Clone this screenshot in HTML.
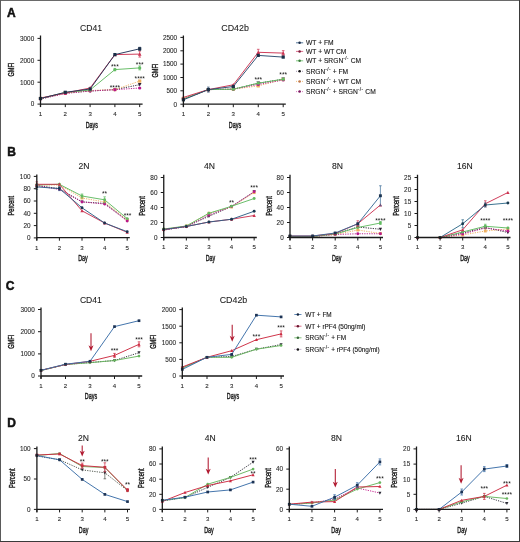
<!DOCTYPE html>
<html><head><meta charset="utf-8"><style>
html,body{margin:0;padding:0;background:#fff;}
body{width:520px;height:542px;overflow:hidden;position:relative;}
svg{position:absolute;left:0;top:0;font-family:"Liberation Sans", sans-serif;filter:blur(0.35px);}
</style></head><body>
<svg width="520" height="542" viewBox="0 0 520 542">
<rect x="0" y="0" width="520" height="542" fill="#fff"/>
<polyline points="40.50,99.00 65.30,93.00 90.10,91.00 114.90,89.60 139.70,84.70" fill="none" stroke="#2a2030" stroke-width="0.95" stroke-dasharray="1.2 1.2"/>
<polyline points="40.50,98.50 65.30,93.00 90.10,90.50 114.90,89.60 139.70,81.10" fill="none" stroke="#eeb060" stroke-width="0.95" stroke-dasharray="1.2 1.2"/>
<polyline points="40.50,99.00 65.30,93.50 90.10,91.00 114.90,89.70 139.70,88.00" fill="none" stroke="#b8188a" stroke-width="0.95" stroke-dasharray="1.2 1.2"/>
<polyline points="40.50,98.50 65.30,92.50 90.10,90.00 114.90,69.60 139.70,67.90" fill="none" stroke="#62bb62" stroke-width="0.95"/>
<polyline points="40.50,98.00 65.30,93.00 90.10,88.00 114.90,54.60 139.70,54.10" fill="none" stroke="#cc3452" stroke-width="0.95"/>
<polyline points="40.50,98.50 65.30,92.30 90.10,89.00 114.90,54.60 139.70,48.80" fill="none" stroke="#24365a" stroke-width="0.95"/>
<path d="M40.50 100.90L42.30 97.40L38.70 97.40Z" fill="#2a2030"/>
<path d="M65.30 94.90L67.10 91.40L63.50 91.40Z" fill="#2a2030"/>
<path d="M90.10 92.90L91.90 89.40L88.30 89.40Z" fill="#2a2030"/>
<path d="M114.90 91.50L116.70 88.00L113.10 88.00Z" fill="#2a2030"/>
<path d="M139.70 86.60L141.50 83.10L137.90 83.10Z" fill="#2a2030"/>
<rect x="38.90" y="96.90" width="3.2" height="3.2" fill="#eeb060"/>
<rect x="63.70" y="91.40" width="3.2" height="3.2" fill="#eeb060"/>
<rect x="88.50" y="88.90" width="3.2" height="3.2" fill="#eeb060"/>
<rect x="113.30" y="88.00" width="3.2" height="3.2" fill="#eeb060"/>
<rect x="138.10" y="79.50" width="3.2" height="3.2" fill="#eeb060"/>
<circle cx="40.50" cy="99.00" r="1.6" fill="#b8188a"/>
<circle cx="65.30" cy="93.50" r="1.6" fill="#b8188a"/>
<circle cx="90.10" cy="91.00" r="1.6" fill="#b8188a"/>
<circle cx="114.90" cy="89.70" r="1.6" fill="#b8188a"/>
<circle cx="139.70" cy="88.00" r="1.6" fill="#b8188a"/>
<circle cx="40.50" cy="98.50" r="1.6" fill="#62bb62"/>
<circle cx="65.30" cy="92.50" r="1.6" fill="#62bb62"/>
<circle cx="90.10" cy="90.00" r="1.6" fill="#62bb62"/>
<path d="M114.90 68.40V70.80M113.60 68.40H116.20M113.60 70.80H116.20" stroke="#62bb62" stroke-width="0.7" fill="none"/>
<circle cx="114.90" cy="69.60" r="1.6" fill="#62bb62"/>
<path d="M139.70 65.90V69.90M138.40 65.90H141.00M138.40 69.90H141.00" stroke="#62bb62" stroke-width="0.7" fill="none"/>
<circle cx="139.70" cy="67.90" r="1.6" fill="#62bb62"/>
<path d="M40.50 96.10L42.30 99.60L38.70 99.60Z" fill="#cc3452"/>
<path d="M65.30 91.10L67.10 94.60L63.50 94.60Z" fill="#cc3452"/>
<path d="M90.10 86.10L91.90 89.60L88.30 89.60Z" fill="#cc3452"/>
<path d="M114.90 52.70L116.70 56.20L113.10 56.20Z" fill="#cc3452"/>
<path d="M139.70 51.10V57.10M138.40 51.10H141.00M138.40 57.10H141.00" stroke="#cc3452" stroke-width="0.7" fill="none"/>
<path d="M139.70 52.20L141.50 55.70L137.90 55.70Z" fill="#cc3452"/>
<rect x="38.90" y="96.90" width="3.2" height="3.2" fill="#1a2e48"/>
<rect x="63.70" y="90.70" width="3.2" height="3.2" fill="#1a2e48"/>
<rect x="88.50" y="87.40" width="3.2" height="3.2" fill="#1a2e48"/>
<rect x="113.30" y="53.00" width="3.2" height="3.2" fill="#1a2e48"/>
<path d="M139.70 47.30V50.30M138.40 47.30H141.00M138.40 50.30H141.00" stroke="#24365a" stroke-width="0.7" fill="none"/>
<rect x="138.10" y="47.20" width="3.2" height="3.2" fill="#1a2e48"/>
<path d="M40.50 35.40V106.90M39.90 104.10H142.60" stroke="#1a1a1a" stroke-width="1.3" fill="none"/>
<text x="34.20" y="106.40" font-size="6.4" text-anchor="end" font-weight="normal" fill="#2a2a2a" stroke="#2a2a2a" stroke-width="0.1">0</text>
<text x="34.20" y="84.50" font-size="6.4" text-anchor="end" font-weight="normal" fill="#2a2a2a" stroke="#2a2a2a" stroke-width="0.1">1000</text>
<text x="34.20" y="62.60" font-size="6.4" text-anchor="end" font-weight="normal" fill="#2a2a2a" stroke="#2a2a2a" stroke-width="0.1">2000</text>
<text x="34.20" y="40.70" font-size="6.4" text-anchor="end" font-weight="normal" fill="#2a2a2a" stroke="#2a2a2a" stroke-width="0.1">3000</text>
<path d="M37.50 104.10H40.50 M37.50 82.20H40.50 M37.50 60.30H40.50 M37.50 38.40H40.50 M40.50 104.10V107.10 M65.30 104.10V107.10 M90.10 104.10V107.10 M114.90 104.10V107.10 M139.70 104.10V107.10" stroke="#1a1a1a" stroke-width="1" fill="none"/>
<text x="40.50" y="116.00" font-size="6.1" text-anchor="middle" font-weight="normal" fill="#2a2a2a" stroke="#2a2a2a" stroke-width="0.1">1</text>
<text x="65.30" y="116.00" font-size="6.1" text-anchor="middle" font-weight="normal" fill="#2a2a2a" stroke="#2a2a2a" stroke-width="0.1">2</text>
<text x="90.10" y="116.00" font-size="6.1" text-anchor="middle" font-weight="normal" fill="#2a2a2a" stroke="#2a2a2a" stroke-width="0.1">3</text>
<text x="114.90" y="116.00" font-size="6.1" text-anchor="middle" font-weight="normal" fill="#2a2a2a" stroke="#2a2a2a" stroke-width="0.1">4</text>
<text x="139.70" y="116.00" font-size="6.1" text-anchor="middle" font-weight="normal" fill="#2a2a2a" stroke="#2a2a2a" stroke-width="0.1">5</text>
<text x="91.00" y="30.80" font-size="8.6" text-anchor="middle" font-weight="normal" fill="#1a1a1a" stroke="#1a1a1a" stroke-width="0.08">CD41</text>
<text x="91.80" y="128.00" font-size="8.4" text-anchor="middle" font-weight="normal" fill="#1a1a1a" textLength="12.3" lengthAdjust="spacingAndGlyphs" stroke="#1a1a1a" stroke-width="0.4">Days</text>
<text transform="translate(13.60,69.60) rotate(-90)" font-size="8.4" text-anchor="middle" font-weight="normal" fill="#1a1a1a" textLength="14.0" lengthAdjust="spacingAndGlyphs" stroke="#1a1a1a" stroke-width="0.4">GMFI</text>
<text x="114.90" y="69.10" font-size="6.6" text-anchor="middle" font-weight="normal" fill="#111">***</text>
<text x="139.70" y="66.60" font-size="6.6" text-anchor="middle" font-weight="normal" fill="#111">***</text>
<text x="139.70" y="80.80" font-size="6.6" text-anchor="middle" font-weight="normal" fill="#111">****</text>
<text x="114.90" y="89.50" font-size="6.6" text-anchor="middle" font-weight="normal" fill="#111">****</text>
<polyline points="183.40,99.00 208.35,89.60 233.30,89.20 258.25,83.20 283.20,79.20" fill="none" stroke="#2a2030" stroke-width="0.95" stroke-dasharray="1.2 1.2"/>
<polyline points="183.40,98.50 208.35,89.60 233.30,89.20 258.25,85.90 283.20,79.50" fill="none" stroke="#eeb060" stroke-width="0.95" stroke-dasharray="1.2 1.2"/>
<polyline points="183.40,99.00 208.35,89.60 233.30,89.20 258.25,84.50 283.20,80.00" fill="none" stroke="#b8188a" stroke-width="0.95" stroke-dasharray="1.2 1.2"/>
<polyline points="183.40,99.00 208.35,89.60 233.30,89.20 258.25,83.20 283.20,79.20" fill="none" stroke="#62bb62" stroke-width="0.95"/>
<polyline points="183.40,97.40 208.35,89.60 233.30,84.80 258.25,52.30 283.20,53.10" fill="none" stroke="#cc3452" stroke-width="0.95"/>
<polyline points="183.40,99.80 208.35,89.60 233.30,86.50 258.25,55.40 283.20,57.10" fill="none" stroke="#2a4a6e" stroke-width="0.95"/>
<path d="M183.40 100.90L185.20 97.40L181.60 97.40Z" fill="#2a2030"/>
<path d="M208.35 91.50L210.15 88.00L206.55 88.00Z" fill="#2a2030"/>
<path d="M233.30 91.10L235.10 87.60L231.50 87.60Z" fill="#2a2030"/>
<path d="M258.25 85.10L260.05 81.60L256.45 81.60Z" fill="#2a2030"/>
<path d="M283.20 81.10L285.00 77.60L281.40 77.60Z" fill="#2a2030"/>
<rect x="181.80" y="96.90" width="3.2" height="3.2" fill="#eeb060"/>
<rect x="206.75" y="88.00" width="3.2" height="3.2" fill="#eeb060"/>
<rect x="231.70" y="87.60" width="3.2" height="3.2" fill="#eeb060"/>
<rect x="256.65" y="84.30" width="3.2" height="3.2" fill="#eeb060"/>
<rect x="281.60" y="77.90" width="3.2" height="3.2" fill="#eeb060"/>
<circle cx="183.40" cy="99.00" r="1.6" fill="#b8188a"/>
<circle cx="208.35" cy="89.60" r="1.6" fill="#b8188a"/>
<circle cx="233.30" cy="89.20" r="1.6" fill="#b8188a"/>
<circle cx="258.25" cy="84.50" r="1.6" fill="#b8188a"/>
<circle cx="283.20" cy="80.00" r="1.6" fill="#b8188a"/>
<circle cx="183.40" cy="99.00" r="1.6" fill="#62bb62"/>
<circle cx="208.35" cy="89.60" r="1.6" fill="#62bb62"/>
<circle cx="233.30" cy="89.20" r="1.6" fill="#62bb62"/>
<circle cx="258.25" cy="83.20" r="1.6" fill="#62bb62"/>
<circle cx="283.20" cy="79.20" r="1.6" fill="#62bb62"/>
<path d="M183.40 95.50L185.20 99.00L181.60 99.00Z" fill="#cc3452"/>
<path d="M208.35 87.70L210.15 91.20L206.55 91.20Z" fill="#cc3452"/>
<path d="M233.30 82.90L235.10 86.40L231.50 86.40Z" fill="#cc3452"/>
<path d="M258.25 49.30V55.30M256.95 49.30H259.55M256.95 55.30H259.55" stroke="#cc3452" stroke-width="0.7" fill="none"/>
<path d="M258.25 50.40L260.05 53.90L256.45 53.90Z" fill="#cc3452"/>
<path d="M283.20 50.60V55.60M281.90 50.60H284.50M281.90 55.60H284.50" stroke="#cc3452" stroke-width="0.7" fill="none"/>
<path d="M283.20 51.20L285.00 54.70L281.40 54.70Z" fill="#cc3452"/>
<rect x="181.80" y="98.20" width="3.2" height="3.2" fill="#1a3048"/>
<path d="M208.35 87.10V92.10M207.05 87.10H209.65M207.05 92.10H209.65" stroke="#2a4a6e" stroke-width="0.7" fill="none"/>
<rect x="206.75" y="88.00" width="3.2" height="3.2" fill="#1a3048"/>
<rect x="231.70" y="84.90" width="3.2" height="3.2" fill="#1a3048"/>
<rect x="256.65" y="53.80" width="3.2" height="3.2" fill="#1a3048"/>
<rect x="281.60" y="55.50" width="3.2" height="3.2" fill="#1a3048"/>
<path d="M183.40 35.40V107.00M182.80 104.20H285.80" stroke="#1a1a1a" stroke-width="1.3" fill="none"/>
<text x="177.10" y="106.50" font-size="6.4" text-anchor="end" font-weight="normal" fill="#2a2a2a" stroke="#2a2a2a" stroke-width="0.1">0</text>
<text x="177.10" y="93.10" font-size="6.4" text-anchor="end" font-weight="normal" fill="#2a2a2a" stroke="#2a2a2a" stroke-width="0.1">500</text>
<text x="177.10" y="79.80" font-size="6.4" text-anchor="end" font-weight="normal" fill="#2a2a2a" stroke="#2a2a2a" stroke-width="0.1">1000</text>
<text x="177.10" y="66.40" font-size="6.4" text-anchor="end" font-weight="normal" fill="#2a2a2a" stroke="#2a2a2a" stroke-width="0.1">1500</text>
<text x="177.10" y="53.10" font-size="6.4" text-anchor="end" font-weight="normal" fill="#2a2a2a" stroke="#2a2a2a" stroke-width="0.1">2000</text>
<text x="177.10" y="39.70" font-size="6.4" text-anchor="end" font-weight="normal" fill="#2a2a2a" stroke="#2a2a2a" stroke-width="0.1">2500</text>
<path d="M180.40 104.20H183.40 M180.40 90.80H183.40 M180.40 77.50H183.40 M180.40 64.10H183.40 M180.40 50.80H183.40 M180.40 37.40H183.40 M183.40 104.20V107.20 M208.35 104.20V107.20 M233.30 104.20V107.20 M258.25 104.20V107.20 M283.20 104.20V107.20" stroke="#1a1a1a" stroke-width="1" fill="none"/>
<text x="183.40" y="116.10" font-size="6.1" text-anchor="middle" font-weight="normal" fill="#2a2a2a" stroke="#2a2a2a" stroke-width="0.1">1</text>
<text x="208.35" y="116.10" font-size="6.1" text-anchor="middle" font-weight="normal" fill="#2a2a2a" stroke="#2a2a2a" stroke-width="0.1">2</text>
<text x="233.30" y="116.10" font-size="6.1" text-anchor="middle" font-weight="normal" fill="#2a2a2a" stroke="#2a2a2a" stroke-width="0.1">3</text>
<text x="258.25" y="116.10" font-size="6.1" text-anchor="middle" font-weight="normal" fill="#2a2a2a" stroke="#2a2a2a" stroke-width="0.1">4</text>
<text x="283.20" y="116.10" font-size="6.1" text-anchor="middle" font-weight="normal" fill="#2a2a2a" stroke="#2a2a2a" stroke-width="0.1">5</text>
<text x="235.10" y="30.50" font-size="8.6" text-anchor="middle" font-weight="normal" fill="#1a1a1a" textLength="27.6" lengthAdjust="spacingAndGlyphs" stroke="#1a1a1a" stroke-width="0.08">CD42b</text>
<text x="235.00" y="128.00" font-size="8.4" text-anchor="middle" font-weight="normal" fill="#1a1a1a" textLength="12.3" lengthAdjust="spacingAndGlyphs" stroke="#1a1a1a" stroke-width="0.4">Days</text>
<text transform="translate(157.80,70.60) rotate(-90)" font-size="8.4" text-anchor="middle" font-weight="normal" fill="#1a1a1a" textLength="14.0" lengthAdjust="spacingAndGlyphs" stroke="#1a1a1a" stroke-width="0.4">GMFI</text>
<text x="258.30" y="82.00" font-size="6.6" text-anchor="middle" font-weight="normal" fill="#111">***</text>
<text x="283.20" y="76.90" font-size="6.6" text-anchor="middle" font-weight="normal" fill="#111">***</text>
<polyline points="36.80,185.50 59.40,188.60 82.00,201.90 104.60,203.40 127.20,220.30" fill="none" stroke="#2a2030" stroke-width="0.95" stroke-dasharray="1.2 1.2"/>
<polyline points="36.80,185.00 59.40,185.00 82.00,198.00 104.60,202.00 127.20,220.00" fill="none" stroke="#eeb060" stroke-width="0.95" stroke-dasharray="1.2 1.2"/>
<polyline points="36.80,185.50 59.40,189.60 82.00,201.90 104.60,204.00 127.20,221.00" fill="none" stroke="#b8188a" stroke-width="0.95" stroke-dasharray="1.2 1.2"/>
<polyline points="36.80,185.00 59.40,184.30 82.00,196.00 104.60,199.80 127.20,218.60" fill="none" stroke="#62bb62" stroke-width="0.95"/>
<polyline points="36.80,184.30 59.40,184.30 82.00,210.80 104.60,223.00 127.20,232.30" fill="none" stroke="#cc3452" stroke-width="0.95"/>
<polyline points="36.80,186.90 59.40,188.60 82.00,207.80 104.60,223.00 127.20,231.70" fill="none" stroke="#2f5f86" stroke-width="0.95"/>
<path d="M36.80 187.25L38.45 184.05L35.15 184.05Z" fill="#2a2030"/>
<path d="M59.40 190.35L61.05 187.15L57.75 187.15Z" fill="#2a2030"/>
<path d="M82.00 203.65L83.65 200.45L80.35 200.45Z" fill="#2a2030"/>
<path d="M104.60 205.15L106.25 201.95L102.95 201.95Z" fill="#2a2030"/>
<path d="M127.20 222.05L128.85 218.85L125.55 218.85Z" fill="#2a2030"/>
<rect x="35.35" y="183.55" width="2.9" height="2.9" fill="#eeb060"/>
<rect x="57.95" y="183.55" width="2.9" height="2.9" fill="#eeb060"/>
<rect x="80.55" y="196.55" width="2.9" height="2.9" fill="#eeb060"/>
<rect x="103.15" y="200.55" width="2.9" height="2.9" fill="#eeb060"/>
<rect x="125.75" y="218.55" width="2.9" height="2.9" fill="#eeb060"/>
<circle cx="36.80" cy="185.50" r="1.45" fill="#b8188a"/>
<circle cx="59.40" cy="189.60" r="1.45" fill="#b8188a"/>
<circle cx="82.00" cy="201.90" r="1.45" fill="#b8188a"/>
<circle cx="104.60" cy="204.00" r="1.45" fill="#b8188a"/>
<circle cx="127.20" cy="221.00" r="1.45" fill="#b8188a"/>
<circle cx="36.80" cy="185.00" r="1.45" fill="#62bb62"/>
<circle cx="59.40" cy="184.30" r="1.45" fill="#62bb62"/>
<path d="M82.00 194.00V198.00M80.70 194.00H83.30M80.70 198.00H83.30" stroke="#62bb62" stroke-width="0.7" fill="none"/>
<circle cx="82.00" cy="196.00" r="1.45" fill="#62bb62"/>
<path d="M104.60 196.80V202.80M103.30 196.80H105.90M103.30 202.80H105.90" stroke="#62bb62" stroke-width="0.7" fill="none"/>
<circle cx="104.60" cy="199.80" r="1.45" fill="#62bb62"/>
<circle cx="127.20" cy="218.60" r="1.45" fill="#62bb62"/>
<path d="M36.80 181.80V186.80M35.50 181.80H38.10M35.50 186.80H38.10" stroke="#cc3452" stroke-width="0.7" fill="none"/>
<path d="M36.80 182.55L38.45 185.75L35.15 185.75Z" fill="#cc3452"/>
<path d="M59.40 182.55L61.05 185.75L57.75 185.75Z" fill="#cc3452"/>
<path d="M82.00 209.05L83.65 212.25L80.35 212.25Z" fill="#cc3452"/>
<path d="M104.60 221.25L106.25 224.45L102.95 224.45Z" fill="#cc3452"/>
<path d="M127.20 230.55L128.85 233.75L125.55 233.75Z" fill="#cc3452"/>
<path d="M36.80 184.40V189.40M35.50 184.40H38.10M35.50 189.40H38.10" stroke="#2f5f86" stroke-width="0.7" fill="none"/>
<circle cx="36.80" cy="186.90" r="1.45" fill="#1a3350"/>
<path d="M59.40 186.60V190.60M58.10 186.60H60.70M58.10 190.60H60.70" stroke="#2f5f86" stroke-width="0.7" fill="none"/>
<circle cx="59.40" cy="188.60" r="1.45" fill="#1a3350"/>
<circle cx="82.00" cy="207.80" r="1.45" fill="#1a3350"/>
<circle cx="104.60" cy="223.00" r="1.45" fill="#1a3350"/>
<circle cx="127.20" cy="231.70" r="1.45" fill="#1a3350"/>
<path d="M36.80 174.60V240.50M36.20 237.70H129.80" stroke="#1a1a1a" stroke-width="1.3" fill="none"/>
<text x="30.50" y="240.20" font-size="6.4" text-anchor="end" font-weight="normal" fill="#2a2a2a" stroke="#2a2a2a" stroke-width="0.1">0</text>
<text x="30.50" y="227.90" font-size="6.4" text-anchor="end" font-weight="normal" fill="#2a2a2a" stroke="#2a2a2a" stroke-width="0.1">20</text>
<text x="30.50" y="215.60" font-size="6.4" text-anchor="end" font-weight="normal" fill="#2a2a2a" stroke="#2a2a2a" stroke-width="0.1">40</text>
<text x="30.50" y="203.30" font-size="6.4" text-anchor="end" font-weight="normal" fill="#2a2a2a" stroke="#2a2a2a" stroke-width="0.1">60</text>
<text x="30.50" y="191.00" font-size="6.4" text-anchor="end" font-weight="normal" fill="#2a2a2a" stroke="#2a2a2a" stroke-width="0.1">80</text>
<text x="30.50" y="178.70" font-size="6.4" text-anchor="end" font-weight="normal" fill="#2a2a2a" stroke="#2a2a2a" stroke-width="0.1">100</text>
<path d="M33.80 237.90H36.80 M33.80 225.60H36.80 M33.80 213.30H36.80 M33.80 201.00H36.80 M33.80 188.70H36.80 M33.80 176.40H36.80 M36.80 237.70V240.70 M59.40 237.70V240.70 M82.00 237.70V240.70 M104.60 237.70V240.70 M127.20 237.70V240.70" stroke="#1a1a1a" stroke-width="1" fill="none"/>
<text x="36.80" y="249.60" font-size="6.1" text-anchor="middle" font-weight="normal" fill="#2a2a2a" stroke="#2a2a2a" stroke-width="0.1">1</text>
<text x="59.40" y="249.60" font-size="6.1" text-anchor="middle" font-weight="normal" fill="#2a2a2a" stroke="#2a2a2a" stroke-width="0.1">2</text>
<text x="82.00" y="249.60" font-size="6.1" text-anchor="middle" font-weight="normal" fill="#2a2a2a" stroke="#2a2a2a" stroke-width="0.1">3</text>
<text x="104.60" y="249.60" font-size="6.1" text-anchor="middle" font-weight="normal" fill="#2a2a2a" stroke="#2a2a2a" stroke-width="0.1">4</text>
<text x="127.20" y="249.60" font-size="6.1" text-anchor="middle" font-weight="normal" fill="#2a2a2a" stroke="#2a2a2a" stroke-width="0.1">5</text>
<text x="84.00" y="168.70" font-size="8.6" text-anchor="middle" font-weight="normal" fill="#1a1a1a" stroke="#1a1a1a" stroke-width="0.08">2N</text>
<text x="83.00" y="261.00" font-size="8.4" text-anchor="middle" font-weight="normal" fill="#1a1a1a" textLength="9.5" lengthAdjust="spacingAndGlyphs" stroke="#1a1a1a" stroke-width="0.4">Day</text>
<text transform="translate(13.90,205.70) rotate(-90)" font-size="8.4" text-anchor="middle" font-weight="normal" fill="#1a1a1a" textLength="19.5" lengthAdjust="spacingAndGlyphs" stroke="#1a1a1a" stroke-width="0.4">Percent</text>
<text x="104.60" y="195.70" font-size="6.6" text-anchor="middle" font-weight="normal" fill="#111">**</text>
<text x="127.50" y="218.00" font-size="6.6" text-anchor="middle" font-weight="normal" fill="#111">***</text>
<polyline points="163.75,230.00 186.35,226.50 208.95,216.25 231.55,206.50 254.15,191.75" fill="none" stroke="#2a2030" stroke-width="0.95" stroke-dasharray="1.2 1.2"/>
<polyline points="163.75,229.50 186.35,226.00 208.95,213.25 231.55,207.00 254.15,192.60" fill="none" stroke="#eeb060" stroke-width="0.95" stroke-dasharray="1.2 1.2"/>
<polyline points="163.75,230.00 186.35,226.50 208.95,215.00 231.55,206.50 254.15,191.75" fill="none" stroke="#b8188a" stroke-width="0.95" stroke-dasharray="1.2 1.2"/>
<polyline points="163.75,229.00 186.35,226.00 208.95,213.25 231.55,206.25 254.15,198.50" fill="none" stroke="#62bb62" stroke-width="0.95"/>
<polyline points="163.75,229.50 186.35,226.50 208.95,222.00 231.55,219.25 254.15,215.50" fill="none" stroke="#cc3452" stroke-width="0.95"/>
<polyline points="163.75,229.50 186.35,226.50 208.95,222.00 231.55,219.25 254.15,211.25" fill="none" stroke="#2f5f86" stroke-width="0.95"/>
<path d="M163.75 231.75L165.40 228.55L162.10 228.55Z" fill="#2a2030"/>
<path d="M186.35 228.25L188.00 225.05L184.70 225.05Z" fill="#2a2030"/>
<path d="M208.95 218.00L210.60 214.80L207.30 214.80Z" fill="#2a2030"/>
<path d="M231.55 208.25L233.20 205.05L229.90 205.05Z" fill="#2a2030"/>
<path d="M254.15 193.50L255.80 190.30L252.50 190.30Z" fill="#2a2030"/>
<rect x="162.30" y="228.05" width="2.9" height="2.9" fill="#eeb060"/>
<rect x="184.90" y="224.55" width="2.9" height="2.9" fill="#eeb060"/>
<rect x="207.50" y="211.80" width="2.9" height="2.9" fill="#eeb060"/>
<rect x="230.10" y="205.55" width="2.9" height="2.9" fill="#eeb060"/>
<rect x="252.70" y="191.15" width="2.9" height="2.9" fill="#eeb060"/>
<circle cx="163.75" cy="230.00" r="1.45" fill="#b8188a"/>
<circle cx="186.35" cy="226.50" r="1.45" fill="#b8188a"/>
<circle cx="208.95" cy="215.00" r="1.45" fill="#b8188a"/>
<circle cx="231.55" cy="206.50" r="1.45" fill="#b8188a"/>
<circle cx="254.15" cy="191.75" r="1.45" fill="#b8188a"/>
<circle cx="163.75" cy="229.00" r="1.45" fill="#62bb62"/>
<circle cx="186.35" cy="226.00" r="1.45" fill="#62bb62"/>
<circle cx="208.95" cy="213.25" r="1.45" fill="#62bb62"/>
<circle cx="231.55" cy="206.25" r="1.45" fill="#62bb62"/>
<circle cx="254.15" cy="198.50" r="1.45" fill="#62bb62"/>
<path d="M163.75 227.75L165.40 230.95L162.10 230.95Z" fill="#cc3452"/>
<path d="M186.35 224.75L188.00 227.95L184.70 227.95Z" fill="#cc3452"/>
<path d="M208.95 220.25L210.60 223.45L207.30 223.45Z" fill="#cc3452"/>
<path d="M231.55 217.50L233.20 220.70L229.90 220.70Z" fill="#cc3452"/>
<path d="M254.15 213.75L255.80 216.95L252.50 216.95Z" fill="#cc3452"/>
<circle cx="163.75" cy="229.50" r="1.45" fill="#1a3a50"/>
<circle cx="186.35" cy="226.50" r="1.45" fill="#1a3a50"/>
<circle cx="208.95" cy="222.00" r="1.45" fill="#1a3a50"/>
<circle cx="231.55" cy="219.25" r="1.45" fill="#1a3a50"/>
<circle cx="254.15" cy="211.25" r="1.45" fill="#1a3a50"/>
<path d="M163.75 174.80V240.30M163.15 237.50H256.80" stroke="#1a1a1a" stroke-width="1.3" fill="none"/>
<text x="157.45" y="239.80" font-size="6.4" text-anchor="end" font-weight="normal" fill="#2a2a2a" stroke="#2a2a2a" stroke-width="0.1">0</text>
<text x="157.45" y="224.80" font-size="6.4" text-anchor="end" font-weight="normal" fill="#2a2a2a" stroke="#2a2a2a" stroke-width="0.1">20</text>
<text x="157.45" y="209.80" font-size="6.4" text-anchor="end" font-weight="normal" fill="#2a2a2a" stroke="#2a2a2a" stroke-width="0.1">40</text>
<text x="157.45" y="194.80" font-size="6.4" text-anchor="end" font-weight="normal" fill="#2a2a2a" stroke="#2a2a2a" stroke-width="0.1">60</text>
<text x="157.45" y="179.80" font-size="6.4" text-anchor="end" font-weight="normal" fill="#2a2a2a" stroke="#2a2a2a" stroke-width="0.1">80</text>
<path d="M160.75 237.50H163.75 M160.75 222.50H163.75 M160.75 207.50H163.75 M160.75 192.50H163.75 M160.75 177.50H163.75 M163.75 237.50V240.50 M186.35 237.50V240.50 M208.95 237.50V240.50 M231.55 237.50V240.50 M254.15 237.50V240.50" stroke="#1a1a1a" stroke-width="1" fill="none"/>
<text x="163.75" y="249.40" font-size="6.1" text-anchor="middle" font-weight="normal" fill="#2a2a2a" stroke="#2a2a2a" stroke-width="0.1">1</text>
<text x="186.35" y="249.40" font-size="6.1" text-anchor="middle" font-weight="normal" fill="#2a2a2a" stroke="#2a2a2a" stroke-width="0.1">2</text>
<text x="208.95" y="249.40" font-size="6.1" text-anchor="middle" font-weight="normal" fill="#2a2a2a" stroke="#2a2a2a" stroke-width="0.1">3</text>
<text x="231.55" y="249.40" font-size="6.1" text-anchor="middle" font-weight="normal" fill="#2a2a2a" stroke="#2a2a2a" stroke-width="0.1">4</text>
<text x="254.15" y="249.40" font-size="6.1" text-anchor="middle" font-weight="normal" fill="#2a2a2a" stroke="#2a2a2a" stroke-width="0.1">5</text>
<text x="209.50" y="168.70" font-size="8.6" text-anchor="middle" font-weight="normal" fill="#1a1a1a" stroke="#1a1a1a" stroke-width="0.08">4N</text>
<text x="210.50" y="261.00" font-size="8.4" text-anchor="middle" font-weight="normal" fill="#1a1a1a" textLength="9.5" lengthAdjust="spacingAndGlyphs" stroke="#1a1a1a" stroke-width="0.4">Day</text>
<text transform="translate(145.00,206.00) rotate(-90)" font-size="8.4" text-anchor="middle" font-weight="normal" fill="#1a1a1a" textLength="19.5" lengthAdjust="spacingAndGlyphs" stroke="#1a1a1a" stroke-width="0.4">Percent</text>
<text x="231.55" y="204.90" font-size="6.6" text-anchor="middle" font-weight="normal" fill="#111">**</text>
<text x="254.15" y="189.65" font-size="6.6" text-anchor="middle" font-weight="normal" fill="#111">***</text>
<polyline points="290.00,236.50 312.60,236.50 335.20,234.00 357.80,227.00 380.40,229.25" fill="none" stroke="#2a2030" stroke-width="0.95" stroke-dasharray="1.2 1.2"/>
<polyline points="290.00,236.50 312.60,236.50 335.20,234.50 357.80,230.00 380.40,233.50" fill="none" stroke="#eeb060" stroke-width="0.95" stroke-dasharray="1.2 1.2"/>
<polyline points="290.00,236.50 312.60,236.50 335.20,234.50 357.80,233.75 380.40,233.75" fill="none" stroke="#b8188a" stroke-width="0.95" stroke-dasharray="1.2 1.2"/>
<polyline points="290.00,236.50 312.60,236.50 335.20,234.00 357.80,227.50 380.40,223.00" fill="none" stroke="#62bb62" stroke-width="0.95"/>
<polyline points="290.00,236.00 312.60,236.00 335.20,233.50 357.80,223.75 380.40,205.00" fill="none" stroke="#cc3452" stroke-width="0.95"/>
<polyline points="290.00,236.00 312.60,236.00 335.20,233.00 357.80,223.75 380.40,195.75" fill="none" stroke="#3a6a96" stroke-width="0.95"/>
<path d="M290.00 238.25L291.65 235.05L288.35 235.05Z" fill="#2a2030"/>
<path d="M312.60 238.25L314.25 235.05L310.95 235.05Z" fill="#2a2030"/>
<path d="M335.20 235.75L336.85 232.55L333.55 232.55Z" fill="#2a2030"/>
<path d="M357.80 228.75L359.45 225.55L356.15 225.55Z" fill="#2a2030"/>
<path d="M380.40 231.00L382.05 227.80L378.75 227.80Z" fill="#2a2030"/>
<rect x="288.55" y="235.05" width="2.9" height="2.9" fill="#eeb060"/>
<rect x="311.15" y="235.05" width="2.9" height="2.9" fill="#eeb060"/>
<rect x="333.75" y="233.05" width="2.9" height="2.9" fill="#eeb060"/>
<rect x="356.35" y="228.55" width="2.9" height="2.9" fill="#eeb060"/>
<rect x="378.95" y="232.05" width="2.9" height="2.9" fill="#eeb060"/>
<circle cx="290.00" cy="236.50" r="1.45" fill="#b8188a"/>
<circle cx="312.60" cy="236.50" r="1.45" fill="#b8188a"/>
<circle cx="335.20" cy="234.50" r="1.45" fill="#b8188a"/>
<circle cx="357.80" cy="233.75" r="1.45" fill="#b8188a"/>
<circle cx="380.40" cy="233.75" r="1.45" fill="#b8188a"/>
<circle cx="290.00" cy="236.50" r="1.45" fill="#62bb62"/>
<circle cx="312.60" cy="236.50" r="1.45" fill="#62bb62"/>
<circle cx="335.20" cy="234.00" r="1.45" fill="#62bb62"/>
<circle cx="357.80" cy="227.50" r="1.45" fill="#62bb62"/>
<path d="M380.40 221.50V224.50M379.10 221.50H381.70M379.10 224.50H381.70" stroke="#62bb62" stroke-width="0.7" fill="none"/>
<circle cx="380.40" cy="223.00" r="1.45" fill="#62bb62"/>
<path d="M290.00 234.25L291.65 237.45L288.35 237.45Z" fill="#cc3452"/>
<path d="M312.60 234.25L314.25 237.45L310.95 237.45Z" fill="#cc3452"/>
<path d="M335.20 231.75L336.85 234.95L333.55 234.95Z" fill="#cc3452"/>
<path d="M357.80 220.75V226.75M356.50 220.75H359.10M356.50 226.75H359.10" stroke="#cc3452" stroke-width="0.7" fill="none"/>
<path d="M357.80 222.00L359.45 225.20L356.15 225.20Z" fill="#cc3452"/>
<path d="M380.40 203.25L382.05 206.45L378.75 206.45Z" fill="#cc3452"/>
<rect x="288.55" y="234.55" width="2.9" height="2.9" fill="#1a3350"/>
<rect x="311.15" y="234.55" width="2.9" height="2.9" fill="#1a3350"/>
<rect x="333.75" y="231.55" width="2.9" height="2.9" fill="#1a3350"/>
<rect x="356.35" y="222.30" width="2.9" height="2.9" fill="#1a3350"/>
<path d="M380.40 185.75V205.75M379.10 185.75H381.70M379.10 205.75H381.70" stroke="#3a6a96" stroke-width="0.7" fill="none"/>
<rect x="378.95" y="194.30" width="2.9" height="2.9" fill="#1a3350"/>
<path d="M290.00 174.80V240.30M289.40 237.50H383.00" stroke="#1a1a1a" stroke-width="1.3" fill="none"/>
<text x="283.70" y="239.80" font-size="6.4" text-anchor="end" font-weight="normal" fill="#2a2a2a" stroke="#2a2a2a" stroke-width="0.1">0</text>
<text x="283.70" y="224.80" font-size="6.4" text-anchor="end" font-weight="normal" fill="#2a2a2a" stroke="#2a2a2a" stroke-width="0.1">20</text>
<text x="283.70" y="209.80" font-size="6.4" text-anchor="end" font-weight="normal" fill="#2a2a2a" stroke="#2a2a2a" stroke-width="0.1">40</text>
<text x="283.70" y="194.80" font-size="6.4" text-anchor="end" font-weight="normal" fill="#2a2a2a" stroke="#2a2a2a" stroke-width="0.1">60</text>
<text x="283.70" y="179.80" font-size="6.4" text-anchor="end" font-weight="normal" fill="#2a2a2a" stroke="#2a2a2a" stroke-width="0.1">80</text>
<path d="M287.00 237.50H290.00 M287.00 222.50H290.00 M287.00 207.50H290.00 M287.00 192.50H290.00 M287.00 177.50H290.00 M290.00 237.50V240.50 M312.60 237.50V240.50 M335.20 237.50V240.50 M357.80 237.50V240.50 M380.40 237.50V240.50" stroke="#1a1a1a" stroke-width="1" fill="none"/>
<text x="290.00" y="249.40" font-size="6.1" text-anchor="middle" font-weight="normal" fill="#2a2a2a" stroke="#2a2a2a" stroke-width="0.1">1</text>
<text x="312.60" y="249.40" font-size="6.1" text-anchor="middle" font-weight="normal" fill="#2a2a2a" stroke="#2a2a2a" stroke-width="0.1">2</text>
<text x="335.20" y="249.40" font-size="6.1" text-anchor="middle" font-weight="normal" fill="#2a2a2a" stroke="#2a2a2a" stroke-width="0.1">3</text>
<text x="357.80" y="249.40" font-size="6.1" text-anchor="middle" font-weight="normal" fill="#2a2a2a" stroke="#2a2a2a" stroke-width="0.1">4</text>
<text x="380.40" y="249.40" font-size="6.1" text-anchor="middle" font-weight="normal" fill="#2a2a2a" stroke="#2a2a2a" stroke-width="0.1">5</text>
<text x="337.50" y="168.70" font-size="8.6" text-anchor="middle" font-weight="normal" fill="#1a1a1a" stroke="#1a1a1a" stroke-width="0.08">8N</text>
<text x="336.75" y="261.00" font-size="8.4" text-anchor="middle" font-weight="normal" fill="#1a1a1a" textLength="9.5" lengthAdjust="spacingAndGlyphs" stroke="#1a1a1a" stroke-width="0.4">Day</text>
<text transform="translate(271.50,206.00) rotate(-90)" font-size="8.4" text-anchor="middle" font-weight="normal" fill="#1a1a1a" textLength="19.5" lengthAdjust="spacingAndGlyphs" stroke="#1a1a1a" stroke-width="0.4">Percent</text>
<text x="380.40" y="222.65" font-size="6.6" text-anchor="middle" font-weight="normal" fill="#111">****</text>
<polyline points="417.50,237.50 440.10,237.50 462.70,233.00 485.30,227.50 507.90,232.50" fill="none" stroke="#2a2030" stroke-width="0.95" stroke-dasharray="1.2 1.2"/>
<polyline points="417.50,237.50 440.10,237.50 462.70,235.00 485.30,231.00 507.90,229.00" fill="none" stroke="#eeb060" stroke-width="0.95" stroke-dasharray="1.2 1.2"/>
<polyline points="417.50,237.50 440.10,237.50 462.70,234.00 485.30,228.00 507.90,231.00" fill="none" stroke="#b8188a" stroke-width="0.95" stroke-dasharray="1.2 1.2"/>
<polyline points="417.50,237.50 440.10,237.50 462.70,232.00 485.30,226.25 507.90,228.00" fill="none" stroke="#62bb62" stroke-width="0.95"/>
<polyline points="417.50,237.50 440.10,237.50 462.70,229.80 485.30,203.75 507.90,192.50" fill="none" stroke="#cc3452" stroke-width="0.95"/>
<polyline points="417.50,237.50 440.10,237.50 462.70,223.75 485.30,205.00 507.90,203.00" fill="none" stroke="#2f6a8a" stroke-width="0.95"/>
<path d="M417.50 239.25L419.15 236.05L415.85 236.05Z" fill="#2a2030"/>
<path d="M440.10 239.25L441.75 236.05L438.45 236.05Z" fill="#2a2030"/>
<path d="M462.70 234.75L464.35 231.55L461.05 231.55Z" fill="#2a2030"/>
<path d="M485.30 229.25L486.95 226.05L483.65 226.05Z" fill="#2a2030"/>
<path d="M507.90 234.25L509.55 231.05L506.25 231.05Z" fill="#2a2030"/>
<rect x="416.05" y="236.05" width="2.9" height="2.9" fill="#eeb060"/>
<rect x="438.65" y="236.05" width="2.9" height="2.9" fill="#eeb060"/>
<rect x="461.25" y="233.55" width="2.9" height="2.9" fill="#eeb060"/>
<rect x="483.85" y="229.55" width="2.9" height="2.9" fill="#eeb060"/>
<rect x="506.45" y="227.55" width="2.9" height="2.9" fill="#eeb060"/>
<circle cx="417.50" cy="237.50" r="1.45" fill="#b8188a"/>
<circle cx="440.10" cy="237.50" r="1.45" fill="#b8188a"/>
<circle cx="462.70" cy="234.00" r="1.45" fill="#b8188a"/>
<circle cx="485.30" cy="228.00" r="1.45" fill="#b8188a"/>
<circle cx="507.90" cy="231.00" r="1.45" fill="#b8188a"/>
<circle cx="417.50" cy="237.50" r="1.45" fill="#62bb62"/>
<circle cx="440.10" cy="237.50" r="1.45" fill="#62bb62"/>
<circle cx="462.70" cy="232.00" r="1.45" fill="#62bb62"/>
<path d="M485.30 224.25V228.25M484.00 224.25H486.60M484.00 228.25H486.60" stroke="#62bb62" stroke-width="0.7" fill="none"/>
<circle cx="485.30" cy="226.25" r="1.45" fill="#62bb62"/>
<circle cx="507.90" cy="228.00" r="1.45" fill="#62bb62"/>
<path d="M417.50 235.75L419.15 238.95L415.85 238.95Z" fill="#cc3452"/>
<path d="M440.10 235.75L441.75 238.95L438.45 238.95Z" fill="#cc3452"/>
<path d="M462.70 228.05L464.35 231.25L461.05 231.25Z" fill="#cc3452"/>
<path d="M485.30 200.75V206.75M484.00 200.75H486.60M484.00 206.75H486.60" stroke="#cc3452" stroke-width="0.7" fill="none"/>
<path d="M485.30 202.00L486.95 205.20L483.65 205.20Z" fill="#cc3452"/>
<path d="M507.90 190.75L509.55 193.95L506.25 193.95Z" fill="#cc3452"/>
<circle cx="417.50" cy="237.50" r="1.45" fill="#1a3a50"/>
<circle cx="440.10" cy="237.50" r="1.45" fill="#1a3a50"/>
<path d="M462.70 219.75V227.75M461.40 219.75H464.00M461.40 227.75H464.00" stroke="#2f6a8a" stroke-width="0.7" fill="none"/>
<circle cx="462.70" cy="223.75" r="1.45" fill="#1a3a50"/>
<path d="M485.30 203.00V207.00M484.00 203.00H486.60M484.00 207.00H486.60" stroke="#2f6a8a" stroke-width="0.7" fill="none"/>
<circle cx="485.30" cy="205.00" r="1.45" fill="#1a3a50"/>
<circle cx="507.90" cy="203.00" r="1.45" fill="#1a3a50"/>
<path d="M417.50 174.80V240.30M416.90 237.50H510.50" stroke="#1a1a1a" stroke-width="1.3" fill="none"/>
<text x="411.20" y="239.80" font-size="6.4" text-anchor="end" font-weight="normal" fill="#2a2a2a" stroke="#2a2a2a" stroke-width="0.1">0</text>
<text x="411.20" y="227.80" font-size="6.4" text-anchor="end" font-weight="normal" fill="#2a2a2a" stroke="#2a2a2a" stroke-width="0.1">5</text>
<text x="411.20" y="215.80" font-size="6.4" text-anchor="end" font-weight="normal" fill="#2a2a2a" stroke="#2a2a2a" stroke-width="0.1">10</text>
<text x="411.20" y="203.80" font-size="6.4" text-anchor="end" font-weight="normal" fill="#2a2a2a" stroke="#2a2a2a" stroke-width="0.1">15</text>
<text x="411.20" y="191.80" font-size="6.4" text-anchor="end" font-weight="normal" fill="#2a2a2a" stroke="#2a2a2a" stroke-width="0.1">20</text>
<text x="411.20" y="179.80" font-size="6.4" text-anchor="end" font-weight="normal" fill="#2a2a2a" stroke="#2a2a2a" stroke-width="0.1">25</text>
<path d="M414.50 237.50H417.50 M414.50 225.50H417.50 M414.50 213.50H417.50 M414.50 201.50H417.50 M414.50 189.50H417.50 M414.50 177.50H417.50 M417.50 237.50V240.50 M440.10 237.50V240.50 M462.70 237.50V240.50 M485.30 237.50V240.50 M507.90 237.50V240.50" stroke="#1a1a1a" stroke-width="1" fill="none"/>
<text x="417.50" y="249.40" font-size="6.1" text-anchor="middle" font-weight="normal" fill="#2a2a2a" stroke="#2a2a2a" stroke-width="0.1">1</text>
<text x="440.10" y="249.40" font-size="6.1" text-anchor="middle" font-weight="normal" fill="#2a2a2a" stroke="#2a2a2a" stroke-width="0.1">2</text>
<text x="462.70" y="249.40" font-size="6.1" text-anchor="middle" font-weight="normal" fill="#2a2a2a" stroke="#2a2a2a" stroke-width="0.1">3</text>
<text x="485.30" y="249.40" font-size="6.1" text-anchor="middle" font-weight="normal" fill="#2a2a2a" stroke="#2a2a2a" stroke-width="0.1">4</text>
<text x="507.90" y="249.40" font-size="6.1" text-anchor="middle" font-weight="normal" fill="#2a2a2a" stroke="#2a2a2a" stroke-width="0.1">5</text>
<text x="464.80" y="168.70" font-size="8.6" text-anchor="middle" font-weight="normal" fill="#1a1a1a" stroke="#1a1a1a" stroke-width="0.08">16N</text>
<text x="465.00" y="261.00" font-size="8.4" text-anchor="middle" font-weight="normal" fill="#1a1a1a" textLength="9.5" lengthAdjust="spacingAndGlyphs" stroke="#1a1a1a" stroke-width="0.4">Day</text>
<text transform="translate(399.30,206.00) rotate(-90)" font-size="8.4" text-anchor="middle" font-weight="normal" fill="#1a1a1a" textLength="19.5" lengthAdjust="spacingAndGlyphs" stroke="#1a1a1a" stroke-width="0.4">Percent</text>
<text x="485.30" y="223.40" font-size="6.6" text-anchor="middle" font-weight="normal" fill="#111">****</text>
<text x="507.90" y="223.40" font-size="6.6" text-anchor="middle" font-weight="normal" fill="#111">****</text>
<polyline points="41.00,370.50 65.50,364.50 90.00,362.50 114.50,360.50 139.00,352.70" fill="none" stroke="#2a2a35" stroke-width="0.95" stroke-dasharray="1.2 1.2"/>
<polyline points="41.00,370.50 65.50,364.50 90.00,362.70 114.50,360.50 139.00,356.10" fill="none" stroke="#68b55f" stroke-width="0.95"/>
<polyline points="41.00,370.30 65.50,364.50 90.00,361.30 114.50,355.40 139.00,344.30" fill="none" stroke="#cc2a40" stroke-width="0.95"/>
<polyline points="41.00,370.30 65.50,364.20 90.00,361.30 114.50,326.60 139.00,320.70" fill="none" stroke="#3a6ea8" stroke-width="0.95"/>
<path d="M41.00 372.15L42.55 369.15L39.45 369.15Z" fill="#2a2a35"/>
<path d="M65.50 366.15L67.05 363.15L63.95 363.15Z" fill="#2a2a35"/>
<path d="M90.00 364.15L91.55 361.15L88.45 361.15Z" fill="#2a2a35"/>
<path d="M114.50 362.15L116.05 359.15L112.95 359.15Z" fill="#2a2a35"/>
<path d="M139.00 354.35L140.55 351.35L137.45 351.35Z" fill="#2a2a35"/>
<circle cx="41.00" cy="370.50" r="1.35" fill="#68b55f"/>
<circle cx="65.50" cy="364.50" r="1.35" fill="#68b55f"/>
<circle cx="90.00" cy="362.70" r="1.35" fill="#68b55f"/>
<circle cx="114.50" cy="360.50" r="1.35" fill="#68b55f"/>
<circle cx="139.00" cy="356.10" r="1.35" fill="#68b55f"/>
<path d="M41.00 368.65L42.55 371.65L39.45 371.65Z" fill="#cc2a40"/>
<path d="M65.50 362.85L67.05 365.85L63.95 365.85Z" fill="#cc2a40"/>
<path d="M90.00 359.65L91.55 362.65L88.45 362.65Z" fill="#cc2a40"/>
<path d="M114.50 353.40V357.40M113.20 353.40H115.80M113.20 357.40H115.80" stroke="#cc2a40" stroke-width="0.7" fill="none"/>
<path d="M114.50 353.75L116.05 356.75L112.95 356.75Z" fill="#cc2a40"/>
<path d="M139.00 341.80V346.80M137.70 341.80H140.30M137.70 346.80H140.30" stroke="#cc2a40" stroke-width="0.7" fill="none"/>
<path d="M139.00 342.65L140.55 345.65L137.45 345.65Z" fill="#cc2a40"/>
<rect x="39.65" y="368.95" width="2.7" height="2.7" fill="#1c3355"/>
<rect x="64.15" y="362.85" width="2.7" height="2.7" fill="#1c3355"/>
<rect x="88.65" y="359.95" width="2.7" height="2.7" fill="#1c3355"/>
<rect x="113.15" y="325.25" width="2.7" height="2.7" fill="#1c3355"/>
<rect x="137.65" y="319.35" width="2.7" height="2.7" fill="#1c3355"/>
<path d="M41.00 307.50V378.80M40.40 376.00H142.20" stroke="#1a1a1a" stroke-width="1.3" fill="none"/>
<text x="34.70" y="378.30" font-size="6.4" text-anchor="end" font-weight="normal" fill="#2a2a2a" stroke="#2a2a2a" stroke-width="0.1">0</text>
<text x="34.70" y="356.20" font-size="6.4" text-anchor="end" font-weight="normal" fill="#2a2a2a" stroke="#2a2a2a" stroke-width="0.1">1000</text>
<text x="34.70" y="334.00" font-size="6.4" text-anchor="end" font-weight="normal" fill="#2a2a2a" stroke="#2a2a2a" stroke-width="0.1">2000</text>
<text x="34.70" y="311.80" font-size="6.4" text-anchor="end" font-weight="normal" fill="#2a2a2a" stroke="#2a2a2a" stroke-width="0.1">3000</text>
<path d="M38.00 376.00H41.00 M38.00 353.90H41.00 M38.00 331.70H41.00 M38.00 309.50H41.00 M41.00 376.00V379.00 M65.50 376.00V379.00 M90.00 376.00V379.00 M114.50 376.00V379.00 M139.00 376.00V379.00" stroke="#1a1a1a" stroke-width="1" fill="none"/>
<text x="41.00" y="387.90" font-size="6.1" text-anchor="middle" font-weight="normal" fill="#2a2a2a" stroke="#2a2a2a" stroke-width="0.1">1</text>
<text x="65.50" y="387.90" font-size="6.1" text-anchor="middle" font-weight="normal" fill="#2a2a2a" stroke="#2a2a2a" stroke-width="0.1">2</text>
<text x="90.00" y="387.90" font-size="6.1" text-anchor="middle" font-weight="normal" fill="#2a2a2a" stroke="#2a2a2a" stroke-width="0.1">3</text>
<text x="114.50" y="387.90" font-size="6.1" text-anchor="middle" font-weight="normal" fill="#2a2a2a" stroke="#2a2a2a" stroke-width="0.1">4</text>
<text x="139.00" y="387.90" font-size="6.1" text-anchor="middle" font-weight="normal" fill="#2a2a2a" stroke="#2a2a2a" stroke-width="0.1">5</text>
<text x="90.90" y="302.60" font-size="8.6" text-anchor="middle" font-weight="normal" fill="#1a1a1a" stroke="#1a1a1a" stroke-width="0.08">CD41</text>
<text x="91.00" y="399.30" font-size="8.4" text-anchor="middle" font-weight="normal" fill="#1a1a1a" textLength="12.3" lengthAdjust="spacingAndGlyphs" stroke="#1a1a1a" stroke-width="0.4">Days</text>
<text transform="translate(13.90,341.80) rotate(-90)" font-size="8.4" text-anchor="middle" font-weight="normal" fill="#1a1a1a" textLength="14.0" lengthAdjust="spacingAndGlyphs" stroke="#1a1a1a" stroke-width="0.4">GMFI</text>
<text x="114.50" y="352.60" font-size="6.6" text-anchor="middle" font-weight="normal" fill="#111">***</text>
<text x="139.00" y="342.00" font-size="6.6" text-anchor="middle" font-weight="normal" fill="#111">***</text>
<path d="M91.00 333.20V346.90" stroke="#b0182f" stroke-width="1.05"/>
<path d="M88.50 345.30L91.00 351.20L93.50 345.30L91.00 346.90Z" fill="#b0182f"/>
<polyline points="182.30,368.00 207.00,357.30 231.70,356.50 256.40,349.20 281.10,344.50" fill="none" stroke="#2a2a35" stroke-width="0.95" stroke-dasharray="1.2 1.2"/>
<polyline points="182.30,368.00 207.00,357.30 231.70,357.30 256.40,349.20 281.10,345.50" fill="none" stroke="#68b55f" stroke-width="0.95"/>
<polyline points="182.30,367.00 207.00,357.30 231.70,350.70 256.40,339.70 281.10,333.90" fill="none" stroke="#cc2a40" stroke-width="0.95"/>
<polyline points="182.30,369.40 207.00,357.30 231.70,354.40 256.40,315.20 281.10,316.90" fill="none" stroke="#3a6ea8" stroke-width="0.95"/>
<path d="M182.30 369.65L183.85 366.65L180.75 366.65Z" fill="#2a2a35"/>
<path d="M207.00 358.95L208.55 355.95L205.45 355.95Z" fill="#2a2a35"/>
<path d="M231.70 358.15L233.25 355.15L230.15 355.15Z" fill="#2a2a35"/>
<path d="M256.40 350.85L257.95 347.85L254.85 347.85Z" fill="#2a2a35"/>
<path d="M281.10 346.15L282.65 343.15L279.55 343.15Z" fill="#2a2a35"/>
<circle cx="182.30" cy="368.00" r="1.35" fill="#68b55f"/>
<circle cx="207.00" cy="357.30" r="1.35" fill="#68b55f"/>
<circle cx="231.70" cy="357.30" r="1.35" fill="#68b55f"/>
<circle cx="256.40" cy="349.20" r="1.35" fill="#68b55f"/>
<circle cx="281.10" cy="345.50" r="1.35" fill="#68b55f"/>
<path d="M182.30 365.35L183.85 368.35L180.75 368.35Z" fill="#cc2a40"/>
<path d="M207.00 355.65L208.55 358.65L205.45 358.65Z" fill="#cc2a40"/>
<path d="M231.70 349.05L233.25 352.05L230.15 352.05Z" fill="#cc2a40"/>
<path d="M256.40 338.05L257.95 341.05L254.85 341.05Z" fill="#cc2a40"/>
<path d="M281.10 330.90V336.90M279.80 330.90H282.40M279.80 336.90H282.40" stroke="#cc2a40" stroke-width="0.7" fill="none"/>
<path d="M281.10 332.25L282.65 335.25L279.55 335.25Z" fill="#cc2a40"/>
<rect x="180.95" y="368.05" width="2.7" height="2.7" fill="#1c3355"/>
<rect x="205.65" y="355.95" width="2.7" height="2.7" fill="#1c3355"/>
<rect x="230.35" y="353.05" width="2.7" height="2.7" fill="#1c3355"/>
<rect x="255.05" y="313.85" width="2.7" height="2.7" fill="#1c3355"/>
<rect x="279.75" y="315.55" width="2.7" height="2.7" fill="#1c3355"/>
<path d="M182.30 307.50V378.80M181.70 376.00H284.00" stroke="#1a1a1a" stroke-width="1.3" fill="none"/>
<text x="176.00" y="378.30" font-size="6.4" text-anchor="end" font-weight="normal" fill="#2a2a2a" stroke="#2a2a2a" stroke-width="0.1">0</text>
<text x="176.00" y="361.70" font-size="6.4" text-anchor="end" font-weight="normal" fill="#2a2a2a" stroke="#2a2a2a" stroke-width="0.1">500</text>
<text x="176.00" y="345.10" font-size="6.4" text-anchor="end" font-weight="normal" fill="#2a2a2a" stroke="#2a2a2a" stroke-width="0.1">1000</text>
<text x="176.00" y="328.50" font-size="6.4" text-anchor="end" font-weight="normal" fill="#2a2a2a" stroke="#2a2a2a" stroke-width="0.1">1500</text>
<text x="176.00" y="311.90" font-size="6.4" text-anchor="end" font-weight="normal" fill="#2a2a2a" stroke="#2a2a2a" stroke-width="0.1">2000</text>
<path d="M179.30 376.00H182.30 M179.30 359.40H182.30 M179.30 342.80H182.30 M179.30 326.20H182.30 M179.30 309.60H182.30 M182.30 376.00V379.00 M207.00 376.00V379.00 M231.70 376.00V379.00 M256.40 376.00V379.00 M281.10 376.00V379.00" stroke="#1a1a1a" stroke-width="1" fill="none"/>
<text x="182.30" y="387.90" font-size="6.1" text-anchor="middle" font-weight="normal" fill="#2a2a2a" stroke="#2a2a2a" stroke-width="0.1">1</text>
<text x="207.00" y="387.90" font-size="6.1" text-anchor="middle" font-weight="normal" fill="#2a2a2a" stroke="#2a2a2a" stroke-width="0.1">2</text>
<text x="231.70" y="387.90" font-size="6.1" text-anchor="middle" font-weight="normal" fill="#2a2a2a" stroke="#2a2a2a" stroke-width="0.1">3</text>
<text x="256.40" y="387.90" font-size="6.1" text-anchor="middle" font-weight="normal" fill="#2a2a2a" stroke="#2a2a2a" stroke-width="0.1">4</text>
<text x="281.10" y="387.90" font-size="6.1" text-anchor="middle" font-weight="normal" fill="#2a2a2a" stroke="#2a2a2a" stroke-width="0.1">5</text>
<text x="233.50" y="302.70" font-size="8.6" text-anchor="middle" font-weight="normal" fill="#1a1a1a" textLength="27.6" lengthAdjust="spacingAndGlyphs" stroke="#1a1a1a" stroke-width="0.08">CD42b</text>
<text x="233.00" y="399.30" font-size="8.4" text-anchor="middle" font-weight="normal" fill="#1a1a1a" textLength="12.3" lengthAdjust="spacingAndGlyphs" stroke="#1a1a1a" stroke-width="0.4">Days</text>
<text transform="translate(156.20,341.80) rotate(-90)" font-size="8.4" text-anchor="middle" font-weight="normal" fill="#1a1a1a" textLength="14.0" lengthAdjust="spacingAndGlyphs" stroke="#1a1a1a" stroke-width="0.4">GMFI</text>
<text x="256.40" y="338.90" font-size="6.6" text-anchor="middle" font-weight="normal" fill="#111">***</text>
<text x="281.10" y="329.70" font-size="6.6" text-anchor="middle" font-weight="normal" fill="#111">***</text>
<path d="M232.20 324.70V337.40" stroke="#b0182f" stroke-width="1.05"/>
<path d="M229.70 335.80L232.20 341.70L234.70 335.80L232.20 337.40Z" fill="#b0182f"/>
<polyline points="36.90,456.00 59.55,459.80 82.20,469.90 104.85,472.80 127.50,490.50" fill="none" stroke="#4a5048" stroke-width="0.95" stroke-dasharray="1.2 1.2"/>
<polyline points="36.90,455.50 59.55,453.50 82.20,466.50 104.85,467.50 127.50,490.50" fill="none" stroke="#68b55f" stroke-width="0.95"/>
<polyline points="36.90,455.00 59.55,454.00 82.20,465.60 104.85,467.30 127.50,490.10" fill="none" stroke="#cc2a40" stroke-width="0.95"/>
<polyline points="36.90,455.50 59.55,459.80 82.20,479.40 104.85,494.40 127.50,501.60" fill="none" stroke="#3a6ea8" stroke-width="0.95"/>
<path d="M36.90 457.65L38.45 454.65L35.35 454.65Z" fill="#2a2a35"/>
<path d="M59.55 461.45L61.10 458.45L58.00 458.45Z" fill="#2a2a35"/>
<path d="M82.20 471.55L83.75 468.55L80.65 468.55Z" fill="#2a2a35"/>
<path d="M104.85 466.80V478.80M103.55 466.80H106.15M103.55 478.80H106.15" stroke="#4a5048" stroke-width="0.7" fill="none"/>
<path d="M104.85 474.45L106.40 471.45L103.30 471.45Z" fill="#2a2a35"/>
<path d="M127.50 492.15L129.05 489.15L125.95 489.15Z" fill="#2a2a35"/>
<circle cx="36.90" cy="455.50" r="1.35" fill="#68b55f"/>
<circle cx="59.55" cy="453.50" r="1.35" fill="#68b55f"/>
<circle cx="82.20" cy="466.50" r="1.35" fill="#68b55f"/>
<circle cx="104.85" cy="467.50" r="1.35" fill="#68b55f"/>
<circle cx="127.50" cy="490.50" r="1.35" fill="#68b55f"/>
<rect x="35.55" y="453.65" width="2.7" height="2.7" fill="#cc2a40"/>
<rect x="58.20" y="452.65" width="2.7" height="2.7" fill="#cc2a40"/>
<path d="M82.20 463.10V468.10M80.90 463.10H83.50M80.90 468.10H83.50" stroke="#cc2a40" stroke-width="0.7" fill="none"/>
<rect x="80.85" y="464.25" width="2.7" height="2.7" fill="#cc2a40"/>
<path d="M104.85 462.80V471.80M103.55 462.80H106.15M103.55 471.80H106.15" stroke="#cc2a40" stroke-width="0.7" fill="none"/>
<rect x="103.50" y="465.95" width="2.7" height="2.7" fill="#cc2a40"/>
<path d="M127.50 488.60V491.60M126.20 488.60H128.80M126.20 491.60H128.80" stroke="#cc2a40" stroke-width="0.7" fill="none"/>
<rect x="126.15" y="488.75" width="2.7" height="2.7" fill="#cc2a40"/>
<rect x="35.55" y="454.15" width="2.7" height="2.7" fill="#1c3355"/>
<rect x="58.20" y="458.45" width="2.7" height="2.7" fill="#1c3355"/>
<rect x="80.85" y="478.05" width="2.7" height="2.7" fill="#1c3355"/>
<rect x="103.50" y="493.05" width="2.7" height="2.7" fill="#1c3355"/>
<rect x="126.15" y="500.25" width="2.7" height="2.7" fill="#1c3355"/>
<path d="M36.90 446.50V512.20M36.30 509.40H130.00" stroke="#1a1a1a" stroke-width="1.3" fill="none"/>
<text x="30.60" y="511.70" font-size="6.4" text-anchor="end" font-weight="normal" fill="#2a2a2a" stroke="#2a2a2a" stroke-width="0.1">0</text>
<text x="30.60" y="481.30" font-size="6.4" text-anchor="end" font-weight="normal" fill="#2a2a2a" stroke="#2a2a2a" stroke-width="0.1">50</text>
<text x="30.60" y="450.90" font-size="6.4" text-anchor="end" font-weight="normal" fill="#2a2a2a" stroke="#2a2a2a" stroke-width="0.1">100</text>
<path d="M33.90 509.40H36.90 M33.90 479.00H36.90 M33.90 448.60H36.90 M36.90 509.40V512.40 M59.55 509.40V512.40 M82.20 509.40V512.40 M104.85 509.40V512.40 M127.50 509.40V512.40" stroke="#1a1a1a" stroke-width="1" fill="none"/>
<text x="36.90" y="521.30" font-size="6.1" text-anchor="middle" font-weight="normal" fill="#2a2a2a" stroke="#2a2a2a" stroke-width="0.1">1</text>
<text x="59.55" y="521.30" font-size="6.1" text-anchor="middle" font-weight="normal" fill="#2a2a2a" stroke="#2a2a2a" stroke-width="0.1">2</text>
<text x="82.20" y="521.30" font-size="6.1" text-anchor="middle" font-weight="normal" fill="#2a2a2a" stroke="#2a2a2a" stroke-width="0.1">3</text>
<text x="104.85" y="521.30" font-size="6.1" text-anchor="middle" font-weight="normal" fill="#2a2a2a" stroke="#2a2a2a" stroke-width="0.1">4</text>
<text x="127.50" y="521.30" font-size="6.1" text-anchor="middle" font-weight="normal" fill="#2a2a2a" stroke="#2a2a2a" stroke-width="0.1">5</text>
<text x="83.60" y="441.00" font-size="8.6" text-anchor="middle" font-weight="normal" fill="#1a1a1a" stroke="#1a1a1a" stroke-width="0.08">2N</text>
<text x="83.60" y="532.80" font-size="8.4" text-anchor="middle" font-weight="normal" fill="#1a1a1a" textLength="9.5" lengthAdjust="spacingAndGlyphs" stroke="#1a1a1a" stroke-width="0.4">Day</text>
<text transform="translate(14.50,478.20) rotate(-90)" font-size="8.4" text-anchor="middle" font-weight="normal" fill="#1a1a1a" textLength="19.5" lengthAdjust="spacingAndGlyphs" stroke="#1a1a1a" stroke-width="0.4">Percent</text>
<text x="82.20" y="464.30" font-size="6.6" text-anchor="middle" font-weight="normal" fill="#111">**</text>
<text x="104.85" y="463.70" font-size="6.6" text-anchor="middle" font-weight="normal" fill="#111">***</text>
<text x="127.50" y="487.40" font-size="6.6" text-anchor="middle" font-weight="normal" fill="#111">**</text>
<path d="M82.20 445.40V452.30" stroke="#b0182f" stroke-width="1.05"/>
<path d="M79.70 450.70L82.20 456.60L84.70 450.70L82.20 452.30Z" fill="#b0182f"/>
<polyline points="162.30,501.00 185.00,497.50 207.70,487.30 230.40,477.40 253.10,462.10" fill="none" stroke="#2a2a35" stroke-width="0.95" stroke-dasharray="1.2 1.2"/>
<polyline points="162.30,500.50 185.00,497.50 207.70,484.20 230.40,477.40 253.10,469.10" fill="none" stroke="#68b55f" stroke-width="0.95"/>
<polyline points="162.30,501.50 185.00,492.50 207.70,485.50 230.40,480.80 253.10,474.80" fill="none" stroke="#cc2a40" stroke-width="0.95"/>
<polyline points="162.30,500.30 185.00,497.20 207.70,492.00 230.40,489.90 253.10,482.10" fill="none" stroke="#3a6ea8" stroke-width="0.95"/>
<path d="M162.30 502.65L163.85 499.65L160.75 499.65Z" fill="#2a2a35"/>
<path d="M185.00 499.15L186.55 496.15L183.45 496.15Z" fill="#2a2a35"/>
<path d="M207.70 488.95L209.25 485.95L206.15 485.95Z" fill="#2a2a35"/>
<path d="M230.40 479.05L231.95 476.05L228.85 476.05Z" fill="#2a2a35"/>
<path d="M253.10 463.75L254.65 460.75L251.55 460.75Z" fill="#2a2a35"/>
<circle cx="162.30" cy="500.50" r="1.35" fill="#68b55f"/>
<circle cx="185.00" cy="497.50" r="1.35" fill="#68b55f"/>
<circle cx="207.70" cy="484.20" r="1.35" fill="#68b55f"/>
<circle cx="230.40" cy="477.40" r="1.35" fill="#68b55f"/>
<circle cx="253.10" cy="469.10" r="1.35" fill="#68b55f"/>
<path d="M162.30 499.85L163.85 502.85L160.75 502.85Z" fill="#cc2a40"/>
<path d="M185.00 490.85L186.55 493.85L183.45 493.85Z" fill="#cc2a40"/>
<path d="M207.70 483.85L209.25 486.85L206.15 486.85Z" fill="#cc2a40"/>
<path d="M230.40 479.15L231.95 482.15L228.85 482.15Z" fill="#cc2a40"/>
<path d="M253.10 473.15L254.65 476.15L251.55 476.15Z" fill="#cc2a40"/>
<rect x="160.95" y="498.95" width="2.7" height="2.7" fill="#1c3355"/>
<rect x="183.65" y="495.85" width="2.7" height="2.7" fill="#1c3355"/>
<rect x="206.35" y="490.65" width="2.7" height="2.7" fill="#1c3355"/>
<rect x="229.05" y="488.55" width="2.7" height="2.7" fill="#1c3355"/>
<rect x="251.75" y="480.75" width="2.7" height="2.7" fill="#1c3355"/>
<path d="M162.30 446.50V512.20M161.70 509.40H256.00" stroke="#1a1a1a" stroke-width="1.3" fill="none"/>
<text x="156.00" y="511.70" font-size="6.4" text-anchor="end" font-weight="normal" fill="#2a2a2a" stroke="#2a2a2a" stroke-width="0.1">0</text>
<text x="156.00" y="496.60" font-size="6.4" text-anchor="end" font-weight="normal" fill="#2a2a2a" stroke="#2a2a2a" stroke-width="0.1">20</text>
<text x="156.00" y="481.50" font-size="6.4" text-anchor="end" font-weight="normal" fill="#2a2a2a" stroke="#2a2a2a" stroke-width="0.1">40</text>
<text x="156.00" y="466.30" font-size="6.4" text-anchor="end" font-weight="normal" fill="#2a2a2a" stroke="#2a2a2a" stroke-width="0.1">60</text>
<text x="156.00" y="451.20" font-size="6.4" text-anchor="end" font-weight="normal" fill="#2a2a2a" stroke="#2a2a2a" stroke-width="0.1">80</text>
<path d="M159.30 509.40H162.30 M159.30 494.30H162.30 M159.30 479.20H162.30 M159.30 464.00H162.30 M159.30 448.90H162.30 M162.30 509.40V512.40 M185.00 509.40V512.40 M207.70 509.40V512.40 M230.40 509.40V512.40 M253.10 509.40V512.40" stroke="#1a1a1a" stroke-width="1" fill="none"/>
<text x="162.30" y="521.30" font-size="6.1" text-anchor="middle" font-weight="normal" fill="#2a2a2a" stroke="#2a2a2a" stroke-width="0.1">1</text>
<text x="185.00" y="521.30" font-size="6.1" text-anchor="middle" font-weight="normal" fill="#2a2a2a" stroke="#2a2a2a" stroke-width="0.1">2</text>
<text x="207.70" y="521.30" font-size="6.1" text-anchor="middle" font-weight="normal" fill="#2a2a2a" stroke="#2a2a2a" stroke-width="0.1">3</text>
<text x="230.40" y="521.30" font-size="6.1" text-anchor="middle" font-weight="normal" fill="#2a2a2a" stroke="#2a2a2a" stroke-width="0.1">4</text>
<text x="253.10" y="521.30" font-size="6.1" text-anchor="middle" font-weight="normal" fill="#2a2a2a" stroke="#2a2a2a" stroke-width="0.1">5</text>
<text x="210.20" y="441.30" font-size="8.6" text-anchor="middle" font-weight="normal" fill="#1a1a1a" stroke="#1a1a1a" stroke-width="0.08">4N</text>
<text x="209.00" y="532.80" font-size="8.4" text-anchor="middle" font-weight="normal" fill="#1a1a1a" textLength="9.5" lengthAdjust="spacingAndGlyphs" stroke="#1a1a1a" stroke-width="0.4">Day</text>
<text transform="translate(143.80,478.20) rotate(-90)" font-size="8.4" text-anchor="middle" font-weight="normal" fill="#1a1a1a" textLength="19.5" lengthAdjust="spacingAndGlyphs" stroke="#1a1a1a" stroke-width="0.4">Percent</text>
<text x="253.10" y="462.10" font-size="6.6" text-anchor="middle" font-weight="normal" fill="#111">***</text>
<text x="253.10" y="475.60" font-size="6.6" text-anchor="middle" font-weight="normal" fill="#111">**</text>
<path d="M208.20 457.50V470.30" stroke="#b0182f" stroke-width="1.05"/>
<path d="M205.70 468.70L208.20 474.60L210.70 468.70L208.20 470.30Z" fill="#b0182f"/>
<polyline points="289.30,504.50 311.95,503.00 334.60,499.00 357.25,488.00 379.90,493.00" fill="none" stroke="#c2188a" stroke-width="0.95" stroke-dasharray="1.2 1.2"/>
<polyline points="289.30,504.50 311.95,503.00 334.60,500.00 357.25,489.10 379.90,482.60" fill="none" stroke="#68b55f" stroke-width="0.95"/>
<polyline points="289.30,504.20 311.95,502.10 334.60,501.60 357.25,487.00 379.90,486.50" fill="none" stroke="#cc2a40" stroke-width="0.95"/>
<polyline points="289.30,504.20 311.95,506.30 334.60,497.20 357.25,485.20 379.90,461.90" fill="none" stroke="#3a6ea8" stroke-width="0.95"/>
<path d="M289.30 506.15L290.85 503.15L287.75 503.15Z" fill="#2a2a35"/>
<path d="M311.95 504.65L313.50 501.65L310.40 501.65Z" fill="#2a2a35"/>
<path d="M334.60 500.65L336.15 497.65L333.05 497.65Z" fill="#2a2a35"/>
<path d="M357.25 489.65L358.80 486.65L355.70 486.65Z" fill="#2a2a35"/>
<path d="M379.90 494.65L381.45 491.65L378.35 491.65Z" fill="#2a2a35"/>
<circle cx="289.30" cy="504.50" r="1.35" fill="#68b55f"/>
<circle cx="311.95" cy="503.00" r="1.35" fill="#68b55f"/>
<circle cx="334.60" cy="500.00" r="1.35" fill="#68b55f"/>
<circle cx="357.25" cy="489.10" r="1.35" fill="#68b55f"/>
<circle cx="379.90" cy="482.60" r="1.35" fill="#68b55f"/>
<path d="M289.30 502.55L290.85 505.55L287.75 505.55Z" fill="#cc2a40"/>
<path d="M311.95 500.45L313.50 503.45L310.40 503.45Z" fill="#cc2a40"/>
<path d="M334.60 499.95L336.15 502.95L333.05 502.95Z" fill="#cc2a40"/>
<path d="M357.25 485.35L358.80 488.35L355.70 488.35Z" fill="#cc2a40"/>
<path d="M379.90 484.85L381.45 487.85L378.35 487.85Z" fill="#cc2a40"/>
<rect x="287.95" y="502.85" width="2.7" height="2.7" fill="#1c3355"/>
<rect x="310.60" y="504.95" width="2.7" height="2.7" fill="#1c3355"/>
<path d="M334.60 494.70V499.70M333.30 494.70H335.90M333.30 499.70H335.90" stroke="#3a6ea8" stroke-width="0.7" fill="none"/>
<rect x="333.25" y="495.85" width="2.7" height="2.7" fill="#1c3355"/>
<path d="M357.25 482.70V487.70M355.95 482.70H358.55M355.95 487.70H358.55" stroke="#3a6ea8" stroke-width="0.7" fill="none"/>
<rect x="355.90" y="483.85" width="2.7" height="2.7" fill="#1c3355"/>
<path d="M379.90 458.90V464.90M378.60 458.90H381.20M378.60 464.90H381.20" stroke="#3a6ea8" stroke-width="0.7" fill="none"/>
<rect x="378.55" y="460.55" width="2.7" height="2.7" fill="#1c3355"/>
<path d="M289.30 446.50V512.20M288.70 509.40H383.00" stroke="#1a1a1a" stroke-width="1.3" fill="none"/>
<text x="283.00" y="511.70" font-size="6.4" text-anchor="end" font-weight="normal" fill="#2a2a2a" stroke="#2a2a2a" stroke-width="0.1">0</text>
<text x="283.00" y="491.50" font-size="6.4" text-anchor="end" font-weight="normal" fill="#2a2a2a" stroke="#2a2a2a" stroke-width="0.1">20</text>
<text x="283.00" y="471.40" font-size="6.4" text-anchor="end" font-weight="normal" fill="#2a2a2a" stroke="#2a2a2a" stroke-width="0.1">40</text>
<text x="283.00" y="451.20" font-size="6.4" text-anchor="end" font-weight="normal" fill="#2a2a2a" stroke="#2a2a2a" stroke-width="0.1">60</text>
<path d="M286.30 509.40H289.30 M286.30 489.20H289.30 M286.30 469.10H289.30 M286.30 448.90H289.30 M289.30 509.40V512.40 M311.95 509.40V512.40 M334.60 509.40V512.40 M357.25 509.40V512.40 M379.90 509.40V512.40" stroke="#1a1a1a" stroke-width="1" fill="none"/>
<text x="289.30" y="521.30" font-size="6.1" text-anchor="middle" font-weight="normal" fill="#2a2a2a" stroke="#2a2a2a" stroke-width="0.1">1</text>
<text x="311.95" y="521.30" font-size="6.1" text-anchor="middle" font-weight="normal" fill="#2a2a2a" stroke="#2a2a2a" stroke-width="0.1">2</text>
<text x="334.60" y="521.30" font-size="6.1" text-anchor="middle" font-weight="normal" fill="#2a2a2a" stroke="#2a2a2a" stroke-width="0.1">3</text>
<text x="357.25" y="521.30" font-size="6.1" text-anchor="middle" font-weight="normal" fill="#2a2a2a" stroke="#2a2a2a" stroke-width="0.1">4</text>
<text x="379.90" y="521.30" font-size="6.1" text-anchor="middle" font-weight="normal" fill="#2a2a2a" stroke="#2a2a2a" stroke-width="0.1">5</text>
<text x="336.60" y="441.30" font-size="8.6" text-anchor="middle" font-weight="normal" fill="#1a1a1a" stroke="#1a1a1a" stroke-width="0.08">8N</text>
<text x="336.10" y="532.80" font-size="8.4" text-anchor="middle" font-weight="normal" fill="#1a1a1a" textLength="9.5" lengthAdjust="spacingAndGlyphs" stroke="#1a1a1a" stroke-width="0.4">Day</text>
<text transform="translate(270.50,478.00) rotate(-90)" font-size="8.4" text-anchor="middle" font-weight="normal" fill="#1a1a1a" textLength="19.5" lengthAdjust="spacingAndGlyphs" stroke="#1a1a1a" stroke-width="0.4">Percent</text>
<text x="379.90" y="480.90" font-size="6.6" text-anchor="middle" font-weight="normal" fill="#111">***</text>
<path d="M335.30 469.10V483.30" stroke="#b0182f" stroke-width="1.05"/>
<path d="M332.80 481.70L335.30 487.60L337.80 481.70L335.30 483.30Z" fill="#b0182f"/>
<polyline points="416.50,509.40 439.10,509.40 461.70,503.20 484.30,496.40 506.90,503.40" fill="none" stroke="#2a2a35" stroke-width="0.95" stroke-dasharray="1.2 1.2"/>
<polyline points="416.50,509.40 439.10,509.40 461.70,501.80 484.30,496.40 506.90,498.50" fill="none" stroke="#68b55f" stroke-width="0.95"/>
<polyline points="416.50,509.40 439.10,509.40 461.70,500.30 484.30,496.40 506.90,485.20" fill="none" stroke="#cc2a40" stroke-width="0.95"/>
<polyline points="416.50,509.40 439.10,509.40 461.70,492.00 484.30,469.10 506.90,466.00" fill="none" stroke="#3a6ea8" stroke-width="0.95"/>
<path d="M416.50 511.05L418.05 508.05L414.95 508.05Z" fill="#2a2a35"/>
<path d="M439.10 511.05L440.65 508.05L437.55 508.05Z" fill="#2a2a35"/>
<path d="M461.70 504.85L463.25 501.85L460.15 501.85Z" fill="#2a2a35"/>
<path d="M484.30 498.05L485.85 495.05L482.75 495.05Z" fill="#2a2a35"/>
<path d="M506.90 505.05L508.45 502.05L505.35 502.05Z" fill="#2a2a35"/>
<circle cx="416.50" cy="509.40" r="1.35" fill="#68b55f"/>
<circle cx="439.10" cy="509.40" r="1.35" fill="#68b55f"/>
<circle cx="461.70" cy="501.80" r="1.35" fill="#68b55f"/>
<circle cx="484.30" cy="496.40" r="1.35" fill="#68b55f"/>
<circle cx="506.90" cy="498.50" r="1.35" fill="#68b55f"/>
<path d="M416.50 507.75L418.05 510.75L414.95 510.75Z" fill="#cc2a40"/>
<path d="M439.10 507.75L440.65 510.75L437.55 510.75Z" fill="#cc2a40"/>
<path d="M461.70 498.65L463.25 501.65L460.15 501.65Z" fill="#cc2a40"/>
<path d="M484.30 493.40V499.40M483.00 493.40H485.60M483.00 499.40H485.60" stroke="#cc2a40" stroke-width="0.7" fill="none"/>
<path d="M484.30 494.75L485.85 497.75L482.75 497.75Z" fill="#cc2a40"/>
<path d="M506.90 483.55L508.45 486.55L505.35 486.55Z" fill="#cc2a40"/>
<rect x="415.15" y="508.05" width="2.7" height="2.7" fill="#1c3355"/>
<rect x="437.75" y="508.05" width="2.7" height="2.7" fill="#1c3355"/>
<path d="M461.70 489.00V495.00M460.40 489.00H463.00M460.40 495.00H463.00" stroke="#3a6ea8" stroke-width="0.7" fill="none"/>
<rect x="460.35" y="490.65" width="2.7" height="2.7" fill="#1c3355"/>
<path d="M484.30 466.60V471.60M483.00 466.60H485.60M483.00 471.60H485.60" stroke="#3a6ea8" stroke-width="0.7" fill="none"/>
<rect x="482.95" y="467.75" width="2.7" height="2.7" fill="#1c3355"/>
<path d="M506.90 464.50V467.50M505.60 464.50H508.20M505.60 467.50H508.20" stroke="#3a6ea8" stroke-width="0.7" fill="none"/>
<rect x="505.55" y="464.65" width="2.7" height="2.7" fill="#1c3355"/>
<path d="M416.50 446.50V512.20M415.90 509.40H510.00" stroke="#1a1a1a" stroke-width="1.3" fill="none"/>
<text x="410.20" y="511.70" font-size="6.4" text-anchor="end" font-weight="normal" fill="#2a2a2a" stroke="#2a2a2a" stroke-width="0.1">0</text>
<text x="410.20" y="496.60" font-size="6.4" text-anchor="end" font-weight="normal" fill="#2a2a2a" stroke="#2a2a2a" stroke-width="0.1">5</text>
<text x="410.20" y="481.50" font-size="6.4" text-anchor="end" font-weight="normal" fill="#2a2a2a" stroke="#2a2a2a" stroke-width="0.1">10</text>
<text x="410.20" y="466.40" font-size="6.4" text-anchor="end" font-weight="normal" fill="#2a2a2a" stroke="#2a2a2a" stroke-width="0.1">15</text>
<text x="410.20" y="451.20" font-size="6.4" text-anchor="end" font-weight="normal" fill="#2a2a2a" stroke="#2a2a2a" stroke-width="0.1">20</text>
<path d="M413.50 509.40H416.50 M413.50 494.30H416.50 M413.50 479.20H416.50 M413.50 464.10H416.50 M413.50 448.90H416.50 M416.50 509.40V512.40 M439.10 509.40V512.40 M461.70 509.40V512.40 M484.30 509.40V512.40 M506.90 509.40V512.40" stroke="#1a1a1a" stroke-width="1" fill="none"/>
<text x="416.50" y="521.30" font-size="6.1" text-anchor="middle" font-weight="normal" fill="#2a2a2a" stroke="#2a2a2a" stroke-width="0.1">1</text>
<text x="439.10" y="521.30" font-size="6.1" text-anchor="middle" font-weight="normal" fill="#2a2a2a" stroke="#2a2a2a" stroke-width="0.1">2</text>
<text x="461.70" y="521.30" font-size="6.1" text-anchor="middle" font-weight="normal" fill="#2a2a2a" stroke="#2a2a2a" stroke-width="0.1">3</text>
<text x="484.30" y="521.30" font-size="6.1" text-anchor="middle" font-weight="normal" fill="#2a2a2a" stroke="#2a2a2a" stroke-width="0.1">4</text>
<text x="506.90" y="521.30" font-size="6.1" text-anchor="middle" font-weight="normal" fill="#2a2a2a" stroke="#2a2a2a" stroke-width="0.1">5</text>
<text x="463.90" y="441.30" font-size="8.6" text-anchor="middle" font-weight="normal" fill="#1a1a1a" stroke="#1a1a1a" stroke-width="0.08">16N</text>
<text x="462.10" y="532.80" font-size="8.4" text-anchor="middle" font-weight="normal" fill="#1a1a1a" textLength="9.5" lengthAdjust="spacingAndGlyphs" stroke="#1a1a1a" stroke-width="0.4">Day</text>
<text transform="translate(397.10,478.00) rotate(-90)" font-size="8.4" text-anchor="middle" font-weight="normal" fill="#1a1a1a" textLength="19.5" lengthAdjust="spacingAndGlyphs" stroke="#1a1a1a" stroke-width="0.4">Percent</text>
<text x="484.30" y="490.70" font-size="6.6" text-anchor="middle" font-weight="normal" fill="#111">***</text>
<text x="506.90" y="485.50" font-size="6.6" text-anchor="middle" font-weight="normal" fill="#111">***</text>
<text x="506.90" y="496.90" font-size="6.6" text-anchor="middle" font-weight="normal" fill="#111">****</text>
<path d="M461.10 465.20V479.40" stroke="#b0182f" stroke-width="1.05"/>
<path d="M458.60 477.80L461.10 483.70L463.60 477.80L461.10 479.40Z" fill="#b0182f"/>
<text x="6.9" y="17.2" font-size="12" font-weight="bold" fill="#111" stroke="#111" stroke-width="0.5">A</text>
<text x="7.3" y="156" font-size="12" font-weight="bold" fill="#111" stroke="#111" stroke-width="0.5">B</text>
<text x="5.8" y="289.5" font-size="12" font-weight="bold" fill="#111" stroke="#111" stroke-width="0.5">C</text>
<text x="7.2" y="427" font-size="12" font-weight="bold" fill="#111" stroke="#111" stroke-width="0.5">D</text>
<path d="M296.00 42.80H303.20" stroke="#2c5580" stroke-width="0.8"/>
<circle cx="299.60" cy="42.80" r="1.25" fill="#1a2d48"/>
<text x="306" y="45.10" font-size="6.7" fill="#1a1a1a" stroke="#1a1a1a" stroke-width="0.12">WT + FM</text>
<path d="M296.00 51.40H303.20" stroke="#d04a70" stroke-width="0.8"/>
<circle cx="299.60" cy="51.40" r="1.25" fill="#7a1a3a"/>
<text x="306" y="53.70" font-size="6.7" fill="#1a1a1a" stroke="#1a1a1a" stroke-width="0.12">WT + WT CM</text>
<path d="M296.00 60.80H303.20" stroke="#62bb62" stroke-width="0.8"/>
<circle cx="299.60" cy="60.80" r="1.25" fill="#3a7a3a"/>
<text x="306" y="63.10" font-size="6.7" fill="#1a1a1a" stroke="#1a1a1a" stroke-width="0.12">WT + SRGN<tspan font-size="4.8" dy="-2.7" letter-spacing="0.35">-/-</tspan><tspan dy="2.7"> CM</tspan></text>
<path d="M296.00 71.30H303.20" stroke="#8a7a9a" stroke-width="0.8" stroke-dasharray="1 1"/>
<circle cx="299.60" cy="71.30" r="1.25" fill="#151515"/>
<text x="306" y="73.60" font-size="6.7" fill="#1a1a1a" stroke="#1a1a1a" stroke-width="0.12">SRGN<tspan font-size="4.8" dy="-2.7" letter-spacing="0.35">-/-</tspan><tspan dy="2.7"> </tspan>+ FM</text>
<path d="M296.00 81.40H303.20" stroke="#eeb060" stroke-width="0.8" stroke-dasharray="1 1"/>
<circle cx="299.60" cy="81.40" r="1.25" fill="#c07a50"/>
<text x="306" y="83.70" font-size="6.7" fill="#1a1a1a" stroke="#1a1a1a" stroke-width="0.12">SRGN<tspan font-size="4.8" dy="-2.7" letter-spacing="0.35">-/-</tspan><tspan dy="2.7"> </tspan>+ WT CM</text>
<path d="M296.00 91.60H303.20" stroke="#d060b0" stroke-width="0.8" stroke-dasharray="1 1"/>
<circle cx="299.60" cy="91.60" r="1.25" fill="#7a1a60"/>
<text x="306" y="93.90" font-size="6.7" fill="#1a1a1a" stroke="#1a1a1a" stroke-width="0.12">SRGN<tspan font-size="4.8" dy="-2.7" letter-spacing="0.35">-/-</tspan><tspan dy="2.7"> </tspan>+ SRGN<tspan font-size="4.8" dy="-2.7" letter-spacing="0.35">-/-</tspan><tspan dy="2.7"> </tspan>CM</text>
<path d="M294.30 314.50H301.50" stroke="#3a6ea8" stroke-width="0.8"/>
<circle cx="297.90" cy="314.50" r="1.25" fill="#15253d"/>
<text x="305.2" y="316.80" font-size="6.45" fill="#1a1a1a" stroke="#1a1a1a" stroke-width="0.12">WT + FM</text>
<path d="M294.30 326.20H301.50" stroke="#d04a6a" stroke-width="0.8"/>
<circle cx="297.90" cy="326.20" r="1.25" fill="#6a1530"/>
<text x="305.2" y="328.50" font-size="6.45" fill="#1a1a1a" stroke="#1a1a1a" stroke-width="0.12">WT + rPF4 (50ng/ml)</text>
<path d="M294.30 337.80H301.50" stroke="#68b55f" stroke-width="0.8"/>
<circle cx="297.90" cy="337.80" r="1.25" fill="#3a6a3a"/>
<text x="305.2" y="340.10" font-size="6.45" fill="#1a1a1a" stroke="#1a1a1a" stroke-width="0.12">SRGN<tspan font-size="4.8" dy="-2.7" letter-spacing="0.35">-/-</tspan><tspan dy="2.7"> </tspan>+ FM</text>
<path d="M294.30 349.40H301.50" stroke="#9a7aaa" stroke-width="0.8" stroke-dasharray="1 1"/>
<circle cx="297.90" cy="349.40" r="1.25" fill="#151515"/>
<text x="305.2" y="351.70" font-size="6.45" fill="#1a1a1a" stroke="#1a1a1a" stroke-width="0.12">SRGN<tspan font-size="4.8" dy="-2.7" letter-spacing="0.35">-/-</tspan><tspan dy="2.7"> </tspan>+ rPF4 (50ng/ml)</text>
</svg>
<div style="position:absolute;left:0;top:0;width:520px;height:1px;background:#6a6a6a"></div>
<div style="position:absolute;left:0;top:0;width:1px;height:542px;background:#5a5a5a"></div>
<div style="position:absolute;left:519px;top:0;width:1px;height:542px;background:#3a3a3a"></div>
<div style="position:absolute;left:0;top:541px;width:520px;height:1px;background:#3a3a3a"></div>
</body></html>
